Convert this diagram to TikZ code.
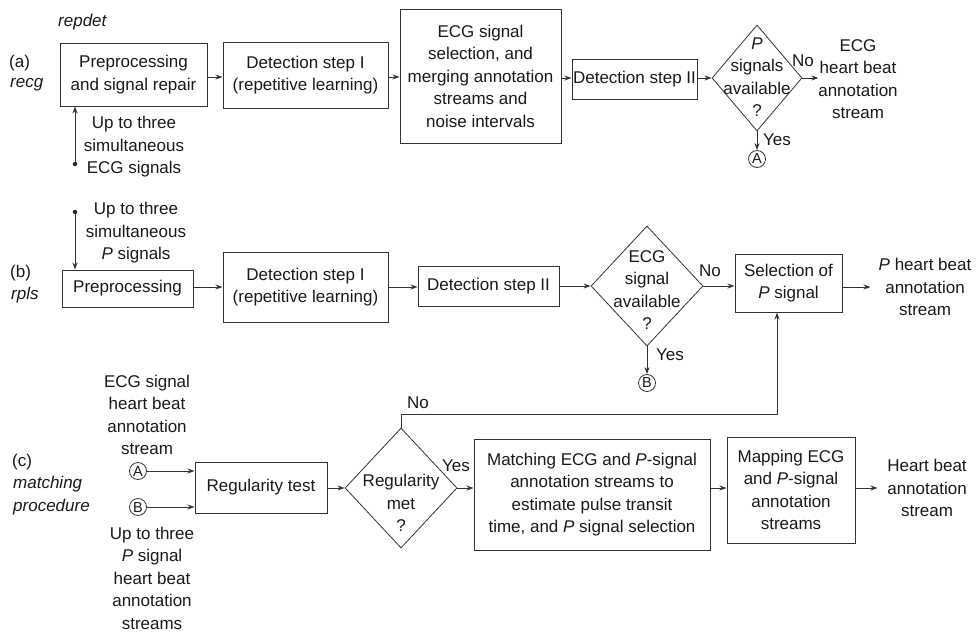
\documentclass[tikz,border=0pt]{standalone}
\usepackage{fontspec}
\setmainfont{Liberation Sans}
\usetikzlibrary{shapes.geometric,arrows.meta}
\begin{document}
\begin{tikzpicture}[x=1pt,y=-1pt,
  every node/.style={font=\fontsize{17}{22.5}\selectfont, text=black!90},
  box/.style={draw=black!80, line width=1pt, align=center, inner sep=0pt},
  dia/.style={diamond, draw=black!80, line width=0.8pt, inner sep=0pt},
  txt/.style={align=center, inner sep=0pt},
  lab/.style={align=left, inner sep=0pt, anchor=west, font=\fontsize{17}{22.5}\selectfont\itshape},
  conn/.style={circle, draw=black!80, line width=0.8pt, minimum size=17pt, inner sep=0pt, font=\fontsize{14.5}{14.5}\selectfont},
  arr/.style={draw=black!80, line width=1pt, -{Stealth[length=7pt,width=5pt]}},
  dotst/.style={circle, fill=black!85, minimum size=4.5pt, inner sep=0pt}
]
\useasboundingbox (0,0) rectangle (976,633);

% ---- row (a)
\node[lab] (repdet) at (58,22) {repdet};
\node[txt, anchor=west] (alab) at (9,63) {(a)};
\node[lab] (recg) at (10,85) {recg};
\node[box, minimum width=147pt, minimum height=63pt] (a1) at (133.5,74.5) {Preprocessing\\and signal repair};
\node[box, minimum width=165pt, minimum height=66pt] (a2) at (305.5,75) {Detection step I\\(repetitive learning)};
\node[box, minimum width=161pt, minimum height=134pt] (a3) at (480.5,76) {ECG signal\\selection, and\\merging annotation\\streams and\\noise intervals};
\node[box, minimum width=125pt, minimum height=40pt] (a4) at (634.5,79) {Detection step II};
\node[dia, minimum width=90pt, minimum height=106pt] (d1) at (757,78) {};
\node[txt] (d1t) at (757,77) {\textit{P}\\signals\\available\\?};
\node[txt] (aout) at (858,79) {ECG\\heart beat\\annotation\\stream};
\node[txt] (ano) at (803,61) {No};
\node[txt] (ayes) at (777,140) {Yes};
\node[conn] (cA1) at (757,159) {A};
\node[dotst] (adot) at (75,164) {};
\node[txt] (ain) at (134,147) {Up to three\\simultaneous\\ECG signals};

\draw[arr] (adot) -- (adot|-a1.south);
\draw[arr] (a1.east|-0,77) -- (a2.west|-0,77);
\draw[arr] (a2.east|-0,77) -- (a3.west|-0,77);
\draw[arr] (a3.east|-0,78) -- (a4.west|-0,78);
\draw[arr] (a4.east|-0,78) -- (d1.west);
\draw[arr] (d1.east) -- ++(16,0) coordinate (aend);
\draw[arr] (d1.south) -- (cA1.north);

% ---- row (b)
\node[txt, anchor=west] (blab) at (10,273) {(b)};
\node[lab] (rpls) at (11,295) {rpls};
\node[dotst] (bdot) at (75,212) {};
\node[txt] (bin) at (136,233) {Up to three\\simultaneous\\\textit{P} signals};
\node[box, minimum width=131pt, minimum height=37pt] (b1) at (127.5,288.5) {Preprocessing};
\node[box, minimum width=165pt, minimum height=70pt] (b2) at (305.5,287) {Detection step I\\(repetitive learning)};
\node[box, minimum width=141pt, minimum height=40pt] (b3) at (488.5,286) {Detection step II};
\node[dia, minimum width=112pt, minimum height=120pt] (d2) at (647,286) {};
\node[txt] (d2t) at (647,290) {ECG\\signal\\available\\?};
\node[box, minimum width=107pt, minimum height=58pt] (sel) at (788.5,283) {Selection of\\\textit{P} signal};
\node[txt] (bout) at (925,287) {\textit{P} heart beat\\annotation\\stream};
\node[txt] (bno) at (710,271) {No};
\node[txt] (byes) at (670,355) {Yes};
\node[conn] (cB1) at (647,383) {B};

\draw[arr] (bdot) -- (bdot|-b1.north);
\draw[arr] (b1.east|-0,287) -- (b2.west|-0,287);
\draw[arr] (b2.east|-0,287) -- (b3.west|-0,287);
\draw[arr] (b3.east|-0,286) -- (d2.west);
\draw[arr] (d2.east) -- (sel.west|-d2.east);
\draw[arr] (sel.east|-0,287) -- ++(28,0) coordinate (bend);
\draw[arr] (d2.south) -- (cB1.north);

% ---- row (c)
\node[txt] (cin1) at (147,415) {ECG signal\\heart beat\\annotation\\stream};
\node[txt, anchor=west] (clab) at (12,462) {(c)};
\node[lab] (cproc) at (13,495.5) {matching\\procedure};
\node[conn] (cA2) at (138,471) {A};
\node[conn] (cB2) at (138,507) {B};
\node[txt] (cin2) at (152,578) {Up to three\\\textit{P} signal\\heart beat\\annotation\\streams};
\node[box, minimum width=132pt, minimum height=51pt] (reg) at (261,487.5) {Regularity test};
\node[dia, minimum width=112pt, minimum height=120pt] (d3) at (401,488) {};
\node[txt] (d3t) at (401,503) {Regularity\\met\\?};
\node[txt] (cyes) at (456,466) {Yes};
\node[txt] (cno) at (418,403) {No};
\node[box, minimum width=236pt, minimum height=111pt] (match) at (592,494.5) {Matching ECG and \textit{P}-signal\\annotation streams to\\estimate pulse transit\\time, and \textit{P} signal selection};
\node[box, minimum width=128pt, minimum height=106pt] (map) at (791,490) {Mapping ECG\\and \textit{P}-signal\\annotation\\streams};
\node[txt] (cout) at (927,488) {Heart beat\\annotation\\stream};
\coordinate (fb1) at (401,414);
\coordinate (fb2) at (777,414);

\draw[arr] (cA2.east) -- (reg.west|-cA2.east);
\draw[arr] (cB2.east) -- (reg.west|-cB2.east);
\draw[arr] (reg.east|-0,488) -- (d3.west);
\draw[arr] (d3.east) -- (match.west|-d3.east);
\draw[arr] (match.east|-0,488) -- (map.west|-0,488);
\draw[arr] (map.east|-0,488) -- ++(22,0) coordinate (cend);
\draw[arr] (d3.north) -- (fb1) -- (fb2) -- (fb2|-sel.south);
\end{tikzpicture}
\end{document}
